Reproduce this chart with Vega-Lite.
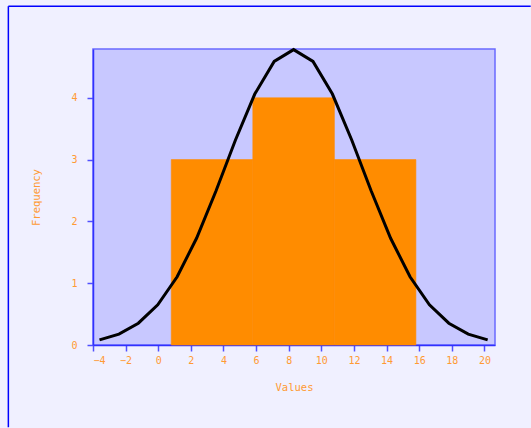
{
  "$schema": "https://vega.github.io/schema/vega-lite/v6.json",
  "width": 402,
  "height": 296,
  "autosize": "none",
  "padding": {"left": 93, "top": 49, "right": 36, "bottom": 83},
  "background": "#f0f0ff",
  "config": {
    "view": {"fill": "#c8c8ff", "stroke": "#6a6aff", "strokeWidth": 1.5},
    "axis": {
      "grid": false,
      "domainColor": "#3030ff",
      "domainWidth": 1.5,
      "tickColor": "#5050ff",
      "tickWidth": 1.5,
      "tickSize": 6,
      "labelColor": "#ff9a33",
      "titleColor": "#ff9a33",
      "labelFont": "DejaVu Sans Mono",
      "titleFont": "DejaVu Sans Mono",
      "labelFontSize": 10,
      "titleFontSize": 10.5,
      "titleFontWeight": "normal",
      "labelOverlap": false,
      "format": "d"
    }
  },
  "datasets": {
    "frameV": [{"x0": -9.19, "y0": -1.33, "y1": 5.481}],
    "frameH": [{"x0": -9.19, "x1": 22.84, "y1": 5.481}],
    "bins": [
      {"bin_start": 0.8, "bin_end": 5.8, "count": 3},
      {"bin_start": 5.8, "bin_end": 10.8, "count": 4},
      {"bin_start": 10.8, "bin_end": 15.8, "count": 3}
    ],
    "curve": [
      {"x": -3.6, "y": 0.082},
      {"x": -2.41, "y": 0.177},
      {"x": -1.22, "y": 0.353},
      {"x": -0.03, "y": 0.65},
      {"x": 1.16, "y": 1.104},
      {"x": 2.35, "y": 1.727},
      {"x": 3.54, "y": 2.492},
      {"x": 4.73, "y": 3.313},
      {"x": 5.92, "y": 4.061},
      {"x": 7.11, "y": 4.589},
      {"x": 8.3, "y": 4.78},
      {"x": 9.49, "y": 4.589},
      {"x": 10.68, "y": 4.061},
      {"x": 11.87, "y": 3.313},
      {"x": 13.06, "y": 2.492},
      {"x": 14.25, "y": 1.727},
      {"x": 15.44, "y": 1.104},
      {"x": 16.63, "y": 0.65},
      {"x": 17.82, "y": 0.353},
      {"x": 19.01, "y": 0.177},
      {"x": 20.2, "y": 0.082}
    ]
  },
  "layer": [
    {
      "data": {"name": "frameV"},
      "mark": {"type": "rule", "color": "#0000ff", "strokeWidth": 1.5, "clip": false},
      "encoding": {
        "x": {
          "field": "x0",
          "type": "quantitative",
          "scale": {"domain": [-4, 20.65], "nice": false, "zero": false},
          "axis": {"title": "Values", "values": [-4, -2, 0, 2, 4, 6, 8, 10, 12, 14, 16, 18, 20], "labelPadding": 4, "titlePadding": 17}
        },
        "y": {
          "field": "y1",
          "type": "quantitative",
          "scale": {"domain": [0, 4.79], "nice": false},
          "axis": {"title": "Frequency", "values": [0, 1, 2, 3, 4], "labelPadding": 10, "titlePadding": 29}
        },
        "y2": {"field": "y0"}
      }
    },
    {
      "data": {"name": "frameH"},
      "mark": {"type": "rule", "color": "#0000ff", "strokeWidth": 1.5, "clip": false},
      "encoding": {
        "x": {
          "field": "x0",
          "type": "quantitative",
          "axis": {"title": "Values", "values": [-4, -2, 0, 2, 4, 6, 8, 10, 12, 14, 16, 18, 20], "labelPadding": 4, "titlePadding": 17}
        },
        "x2": {"field": "x1"},
        "y": {
          "field": "y1",
          "type": "quantitative",
          "axis": {"title": "Frequency", "values": [0, 1, 2, 3, 4], "labelPadding": 10, "titlePadding": 29}
        }
      }
    },
    {
      "data": {"name": "bins"},
      "mark": {"type": "rect", "color": "#ff8c00", "stroke": "#ff8c00", "strokeWidth": 0.6},
      "encoding": {
        "x": {
          "field": "bin_start",
          "type": "quantitative",
          "axis": {"title": "Values", "values": [-4, -2, 0, 2, 4, 6, 8, 10, 12, 14, 16, 18, 20], "labelPadding": 4, "titlePadding": 17}
        },
        "x2": {"field": "bin_end"},
        "y": {
          "field": "count",
          "type": "quantitative",
          "axis": {"title": "Frequency", "values": [0, 1, 2, 3, 4], "labelPadding": 10, "titlePadding": 29}
        },
        "y2": {"datum": 0}
      }
    },
    {
      "data": {"name": "curve"},
      "mark": {"type": "line", "color": "#000000", "strokeWidth": 3},
      "encoding": {
        "x": {
          "field": "x",
          "type": "quantitative",
          "axis": {"title": "Values", "values": [-4, -2, 0, 2, 4, 6, 8, 10, 12, 14, 16, 18, 20], "labelPadding": 4, "titlePadding": 17}
        },
        "y": {
          "field": "y",
          "type": "quantitative",
          "axis": {"title": "Frequency", "values": [0, 1, 2, 3, 4], "labelPadding": 10, "titlePadding": 29}
        }
      }
    }
  ]
}
